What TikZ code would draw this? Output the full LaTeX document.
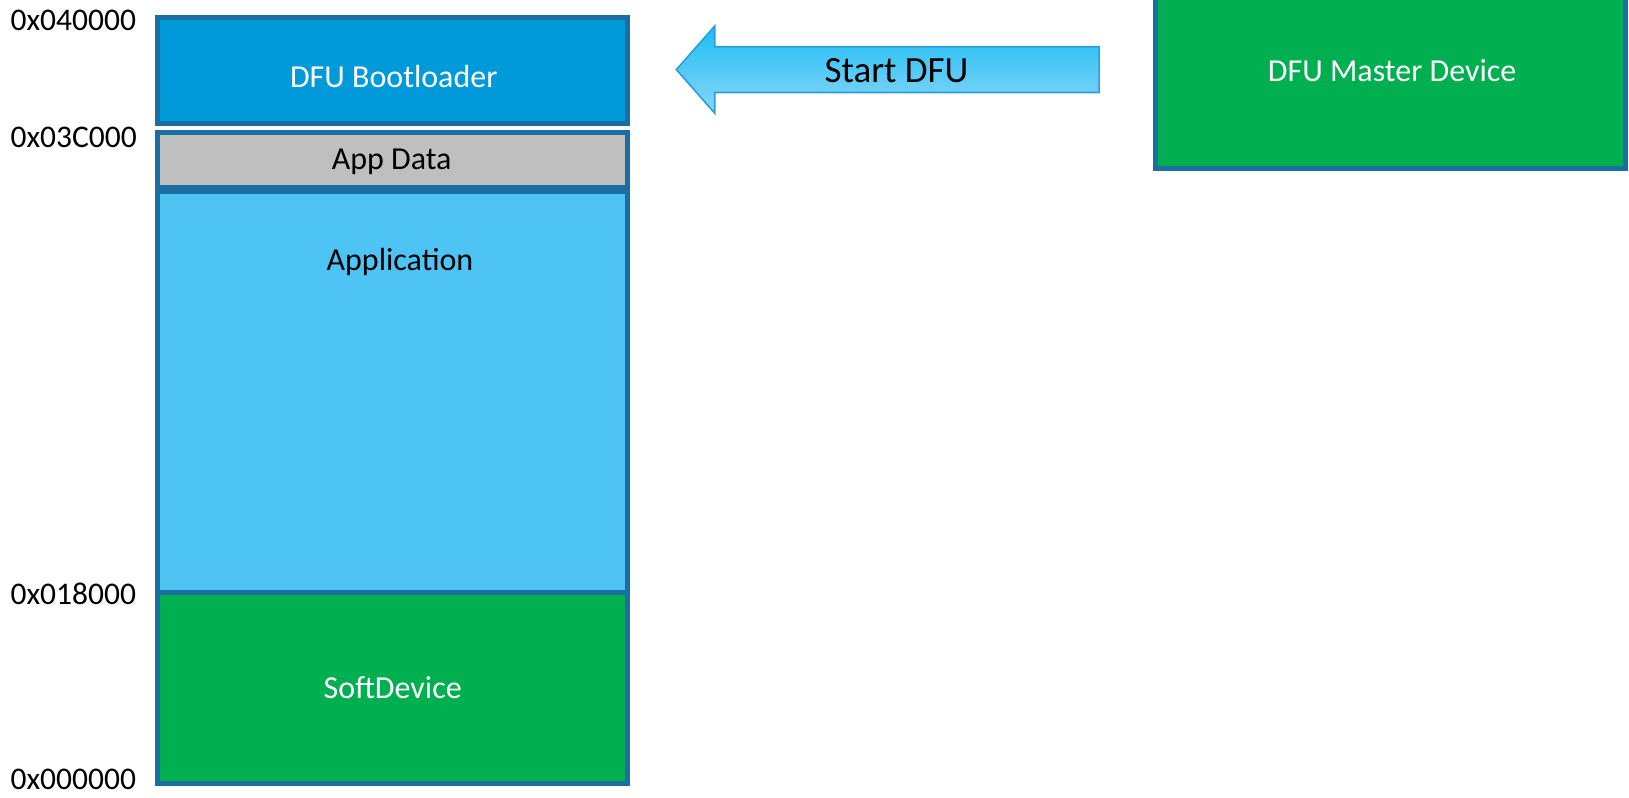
\documentclass[tikz,border=0pt]{standalone}
\usepackage{fontspec}
\setmainfont{Carlito}
\definecolor{edge}{HTML}{1A6EA2}
\definecolor{bootc}{HTML}{0099DA}
\definecolor{datac}{HTML}{BFBFBF}
\definecolor{appc}{HTML}{4DC4F4}
\definecolor{greenc}{HTML}{00AF50}
\definecolor{arrtop}{HTML}{1CBEF5}
\definecolor{arrbot}{HTML}{8CD6F6}
\definecolor{arredge}{HTML}{2C9FD8}
\begin{document}
\begin{tikzpicture}[x=1.0389pt,y=-1.0389pt,
  region/.style={draw=edge,line width=5pt,inner sep=0pt},
  lbl/.style={font=\fontsize{32}{36}\selectfont,inner sep=0pt},
  addr/.style={font=\fontsize{31.5}{36}\selectfont,inner sep=0pt,anchor=west}]
\useasboundingbox (0,0) rectangle (1568,768.1);
\begin{scope}
\clip (0,0) rectangle (1568,768.1);
% memory regions
\path[region,fill=bootc] (152,17) rectangle (604,119);
\path[region,fill=datac] (152,128) rectangle (604,180);
\path[region,fill=appc] (152,184) rectangle (604,570);
\path[region,fill=greenc] (152,570) rectangle (604,754);
\path[region,fill=greenc] (1112,-10) rectangle (1565,162);
\end{scope}
% texts
\node[lbl,text=white] (boot) at (379,74) {DFU Bootloader};
\node[lbl] (data) at (377,156) {App Data};
\node[lbl] (app) at (385,252) {Application};
\node[lbl,text=white] (soft) at (378,662) {SoftDevice};
\node[lbl,text=white] (master) at (1340,68) {DFU Master Device};
% addresses
\node[addr] (a1) at (10,20) {0x040000};
\node[addr] (a2) at (10,132) {0x03C000};
\node[addr] (a3) at (10,572) {0x018000};
\node[addr] (a4) at (10,750) {0x000000};
% block arrow with a vertical gradient
\begin{scope}
\clip (651,67) -- (688,25) -- (688,45) -- (1058,45) -- (1058,89) -- (688,89) -- (688,109) -- cycle;
\foreach \i in {0,...,42} {
  \pgfmathsetmacro\p{100-\i*100/42}
  \fill[arrtop!\p!arrbot] (640,{25+2*\i}) rectangle (1062,{27.5+2*\i});
}
\end{scope}
\draw[draw=arredge,line width=1.6pt,line join=miter]
  (651,67) -- (688,25) -- (688,45) -- (1058,45) -- (1058,89) -- (688,89) -- (688,109) -- cycle;
\node[font=\fontsize{37}{42}\selectfont,inner sep=0pt] (start) at (863,68) {Start DFU};
\end{tikzpicture}
\end{document}
